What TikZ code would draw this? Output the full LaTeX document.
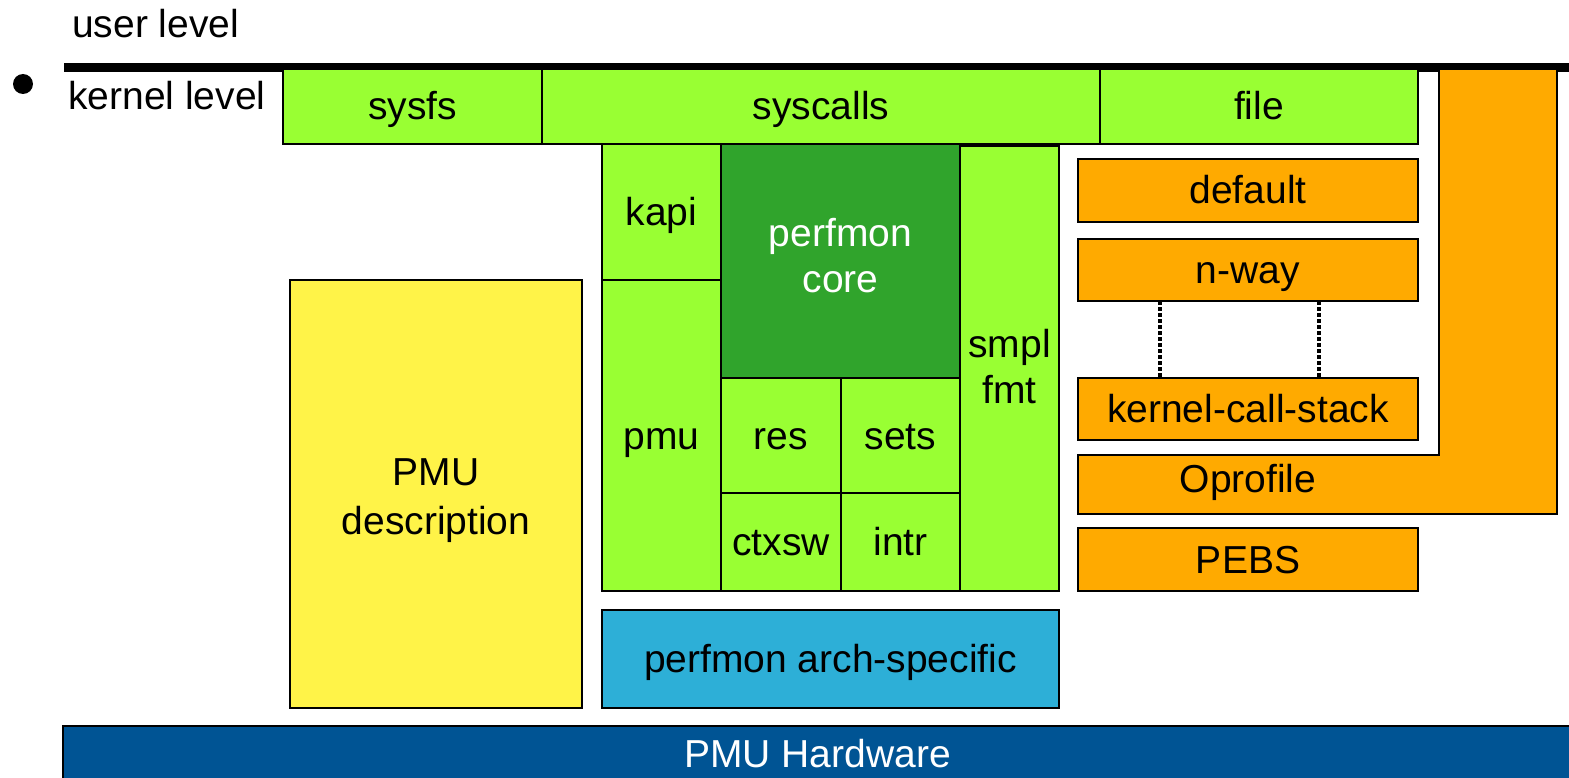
\documentclass[tikz,border=0pt]{standalone}
\usepackage{fontspec}
\setmainfont{Liberation Sans}
\definecolor{litegreen}{RGB}{153,255,51}
\definecolor{darkgreen}{RGB}{48,164,44}
\definecolor{sampleorange}{RGB}{255,170,0}
\definecolor{descyellow}{RGB}{255,243,72}
\definecolor{archblue}{RGB}{45,175,215}
\definecolor{hwblue}{RGB}{0,84,148}
\begin{document}
\begin{tikzpicture}[
              x=1pt, y=-1pt,
              lvltext/.style={font=\fontsize{39}{46}\selectfont, inner sep=0pt},
              block/.style={draw=black, line width=2.5pt, inner sep=0pt, align=center,
                            font=\fontsize{39}{46}\selectfont, text height=35pt, text depth=8pt},
              twoline/.style={text height={}, text depth={}},
              boxsize/.style 2 args={minimum width=#1pt, minimum height=#2pt},
              generic/.style={block, fill=litegreen},
              coreblk/.style={block, fill=darkgreen, text=white},
              sampler/.style={block, fill=sampleorange},
              pmudesc/.style={block, fill=descyellow},
              archblk/.style={block, fill=archblue},
              hwblk/.style={block, fill=hwblue, text=white},
              link/.style={line width=3.5pt, dash pattern=on 4pt off 2pt}
            ]
            \useasboundingbox (0,0) rectangle (1569,778);

            % Levels
            \node[lvltext, anchor=base west] (user) at (72,38) {user level};
            \fill (64,63) rectangle (1569,72);
            \node[circle, fill=black, minimum size=20pt, inner sep=0pt] (bullet) at (23,84) {};
            \node[lvltext, anchor=base west] (kernel) at (68,110) {kernel level};

            % Interfaces
            \node[generic, boxsize={259}{75}] (sysfs) at (412.5,106.5) {sysfs};
            \node[generic, boxsize={558}{75}] (syscalls) at (821,106.5) {syscalls};
            \node[generic, boxsize={318}{75}] (file) at (1259,106.5) {file};

            % Perfmon core and modules
            \node[generic, boxsize={119}{136}] (kapi) at (661.5,212) {kapi};
            \node[generic, boxsize={119}{311}] (pmu) at (661.5,435.5) {pmu};
            \node[coreblk, twoline, boxsize={239}{234}] (core) at (840.5,261) {perfmon\\core\rule[-12pt]{0pt}{0pt}};
            \node[generic, boxsize={120}{115}] (res) at (781,435.5) {res};
            \node[generic, boxsize={119}{115}] (sets) at (900.5,435.5) {sets};
            \node[generic, boxsize={120}{98}] (ctxsw) at (781,542) {ctxsw};
            \node[generic, boxsize={119}{98}] (intr) at (900.5,542) {intr};
            \node[generic, twoline, boxsize={99}{445}] (smpl) at (1009.5,368.5) {smpl\\fmt\rule[-5pt]{0pt}{0pt}};

            % PMU description and arch
            \node[pmudesc, twoline, boxsize={292}{428}, font=\fontsize{39}{49}\selectfont] (desc) at (436,494) {\rule{0pt}{40pt}PMU\\description};
            \node[archblk, boxsize={457}{98}] (arch) at (830.5,659) {perfmon arch-specific};

            % Sampling formats
            \draw[sampler] (1439,69) -- (1557,69) -- (1557,514) -- (1078,514) -- (1078,455) -- (1439,455) -- cycle;
            \node[lvltext, anchor=base] (oprofile) at (1248,492) {Oprofile};
            \node[sampler, boxsize={340}{63}] (default) at (1248,190.5) {default};
            \node[sampler, boxsize={340}{62}] (nway) at (1248,270) {n-way};
            \node[sampler, boxsize={340}{62}] (kcs) at (1248,409) {kernel-call-stack};
            \node[sampler, boxsize={340}{63}] (pebs) at (1248,559.5) {PEBS};

            \coordinate (nway-l) at (1160,301);
            \coordinate (nway-r) at (1319,301);
            \draw[link] (nway-l) -- (nway-l |- kcs.north);
            \draw[link] (nway-r) -- (nway-r |- kcs.north);

            % Hardware
            \node[hwblk, boxsize={1509}{55}] (hw) at (817.5,753.5) {PMU Hardware};

            \end{tikzpicture}
\end{document}
